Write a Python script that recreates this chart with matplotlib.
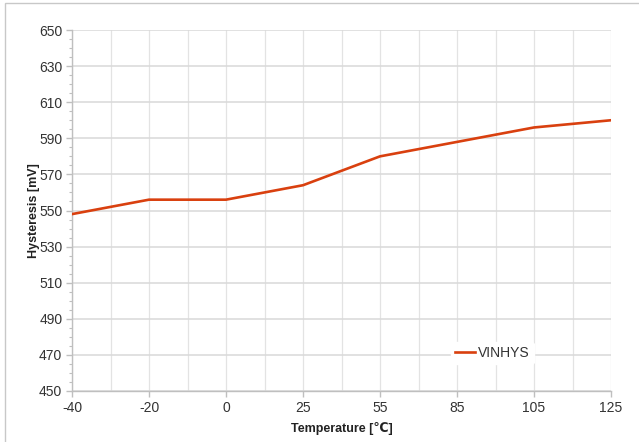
import matplotlib
matplotlib.use("Agg")
import matplotlib.pyplot as plt
from matplotlib.patches import Rectangle
from matplotlib.ticker import MultipleLocator, FixedLocator

temps = ["-40", "-20", "0", "25", "55", "85", "105", "125"]
vinhys = [548, 556, 556, 564, 580, 588, 596, 600]
yticks = [450, 470, 490, 510, 530, 550, 570, 590, 610, 630, 650]

W, H = 639, 442
fig = plt.figure(figsize=(W / 100, H / 100), dpi=100)
plt.rcParams['font.family'] = ['Liberation Sans', 'DejaVu Sans']

# outer border
fig.patches.append(Rectangle((5 / W, -0.05), 1.2, 1 - 3 / H + 0.05, transform=fig.transFigure,
                             fill=False, edgecolor='#c8c8c8', linewidth=1.0))

ax = fig.add_axes([72 / W, 1 - 391 / H, (611 - 72) / W, (391 - 30) / H])
x = list(range(len(temps)))
ax.plot(x, vinhys, color='#d9400f', linewidth=1.9, label='VINHYS', zorder=3)

ax.set_xlim(0, len(temps) - 1)
ax.set_ylim(450, 650)
ax.set_xticks(x)
ax.set_xticklabels(temps)
ax.xaxis.set_minor_locator(FixedLocator([i + 0.5 for i in range(len(temps) - 1)]))
ax.set_yticks(yticks)
ax.yaxis.set_minor_locator(MultipleLocator(5))

ax.grid(True, which='major', axis='y', color='#d9d9d9', linewidth=1.1)
ax.grid(True, which='both', axis='x', color='#e3e3e3', linewidth=0.9)
ax.set_axisbelow(True)

for s in ['top', 'right']:
    ax.spines[s].set_visible(False)
for s in ['left', 'bottom']:
    ax.spines[s].set_color('#bfbfbf')
    ax.spines[s].set_linewidth(1.0)

ax.tick_params(axis='both', which='major', labelsize=10, colors='#bfbfbf', labelcolor='#333333', length=4, width=1)
ax.tick_params(axis='y', which='minor', colors='#bfbfbf', length=2.5, width=0.8)
ax.tick_params(axis='x', which='minor', length=0)
ax.tick_params(axis='x', pad=3)
ax.tick_params(axis='y', pad=3)

ax.set_xlabel('Temperature [℃]', fontsize=9, fontweight='bold', color='#222222', labelpad=5)
ax.set_ylabel('Hysteresis [mV]', fontsize=9, fontweight='bold', color='#222222', labelpad=-1)

leg = ax.legend(loc='center', bbox_to_anchor=(0.78, 0.105), frameon=True, fontsize=10,
                handlelength=1.4, handletextpad=0.2, borderpad=0.3)
leg.get_frame().set_edgecolor('white')
leg.get_frame().set_facecolor('white')
leg.get_frame().set_alpha(1)
for t in leg.get_texts():
    t.set_color('#333333')

fig.savefig('out.png', dpi=100)
